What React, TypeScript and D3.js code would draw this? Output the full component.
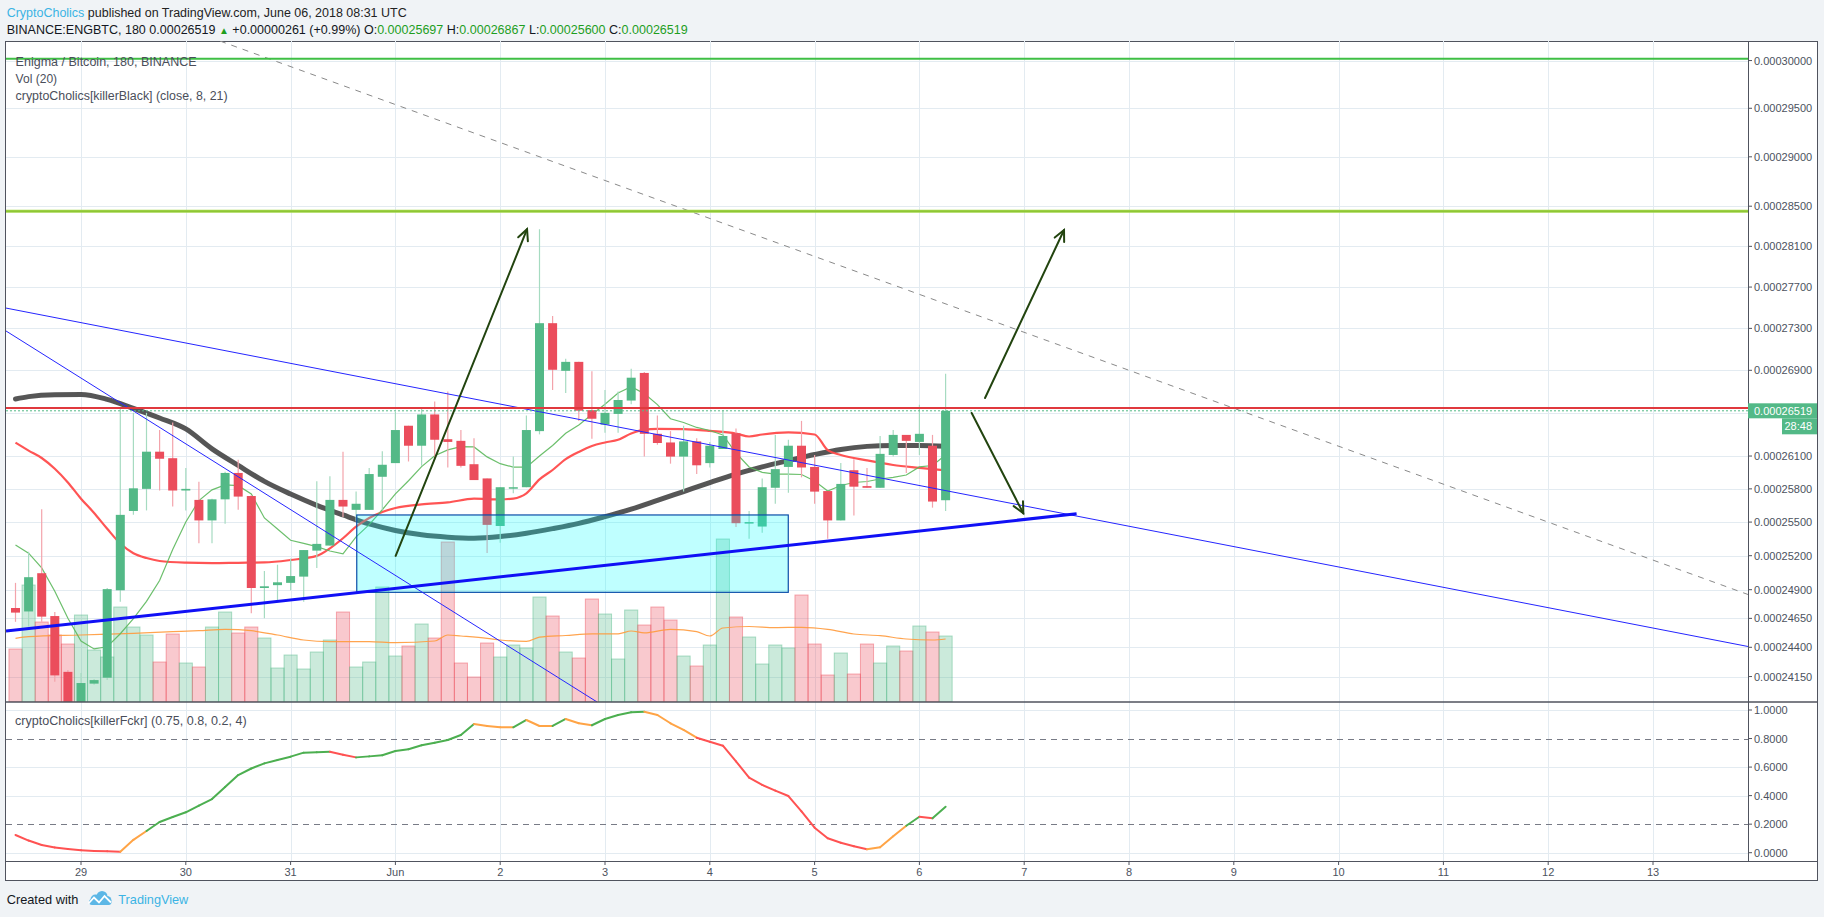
import React from 'react';
import * as d3 from 'd3';

// ENG/BTC 3h candles, May 28 09:00 UTC .. Jun 6 06:00 UTC (prices in satoshi)
const opens = [24740,24710,25045,24670,24190,23900,24090,24140,24895,25600,25800,26140,26080,25785,25700,25515,25705,25945,25735,24915,24940,24960,25015,25245,25290,25700,25610,25610,25910,26035,26380,26195,26485,26255,26240,26025,25895,25465,25810,25815,26330,27350,26895,26980,26525,26390,26490,26615,26875,26305,26225,26095,26235,26035,26165,26310,25490,25460,25810,26000,26195,26000,25780,25515,25970,25825,25810,26110,26295,26230,26195,25697];
const highs = [24960,25235,25615,24705,24205,24180,24130,24915,26545,26500,26500,26340,26410,25990,25865,25710,25955,26065,25745,25065,25120,25175,25250,25870,25915,26140,25775,25990,26145,26510,26380,26545,26605,26700,26340,26265,25895,25815,26095,26475,28270,27420,27010,26980,26890,26715,26700,26915,26885,26475,26330,26380,26265,26230,26525,26355,25600,25895,26295,26250,26425,26110,25780,26035,26070,25990,26285,26340,26295,26575,26295,26867];
const lows = [24620,24580,24620,24105,23860,23870,24080,24120,24795,25565,25605,25785,25640,25605,25310,25310,25485,25610,24695,24650,24795,24895,24795,25090,25290,25545,25505,25610,25610,26035,26050,26010,26065,25995,25995,25880,25225,25315,25760,25815,26300,26715,26685,26425,26260,26315,26315,26580,26095,26205,26030,25775,25935,25995,26165,25455,25350,25405,25665,25765,25905,25665,25350,25515,25560,25810,25810,26095,25945,26110,25630,25600];
const closes = [24700,25010,24665,24160,23900,24095,24120,24905,25565,25805,26140,26075,25785,25800,25515,25705,25945,25730,24915,24930,24965,25020,25250,25305,25700,25640,25665,25935,26020,26340,26195,26485,26250,26230,26010,25880,25475,25815,25815,26340,27350,26905,26980,26520,26445,26500,26620,26830,26305,26220,26095,26235,26015,26195,26285,25490,25500,25815,25980,26195,25995,25775,25515,25845,25820,25810,26120,26295,26240,26305,25685,26519];
const volumes = [53,117,80,67,58,87,52,45,95,75,67,40,68,39,35,75,90,69,75,64,34,47,33,50,62,90,35,40,115,46,56,78,64,160,39,25,59,45,57,54,105,86,50,44,103,88,43,92,77,95,82,46,36,57,163,85,65,38,57,54,107,58,27,49,28,58,39,56,51,76,70,66];

// Vol (20) moving average, read at these bars
const volMaBars = [0,1,5,9,12,14,16,18,20,22,24,27,29,32,33,34,36,37,39,40,42,44,46,47,48,50,52,53,54,56,58,60,62,64,66,68,70,71];
const volMaValues = [63.7,65.3,67,68.7,70.3,71.3,72.7,71.3,67,62,60.3,60.3,59.3,61,67,66,63.7,62,60.6,64.8,66.5,68.2,68.2,71,69.2,72.7,70.3,66,74,75.5,74.4,74.7,72.7,68,66.3,63,62,63];

// killerBlack slow line (thick grey)
const blackBars = [0,1,3,5,7,9,11,13,15,17,19,21,23,25,27,29,31,33,35,37,39,41,43,45,47,49,51,53,55,57,59,61,63,65,67,69,71];
const blackValues = [26630,26652,26670,26672,26626,26542,26452,26350,26166,26014,25868,25753,25651,25564,25483,25425,25386,25365,25356,25370,25400,25441,25488,25549,25616,25695,25776,25857,25934,26000,26058,26114,26161,26189,26198,26198,26190];

// red MA
const redBars = [0,1,2,3,4,5,6,7,8,9,10,11,13,15,17,19,21,23,24,25,26,27,28,29,31,33,35,37,38,39,40,41,42,43,44,45,46,47,48,49,51,53,55,56,57,59,61,62,63,65,67,69,71];
const redValues = [26223,26150,26082,25983,25858,25711,25582,25440,25308,25222,25179,25153,25138,25134,25137,25140,25162,25198,25265,25355,25459,25537,25591,25627,25660,25677,25711,25704,25712,25760,25886,25972,26071,26138,26193,26225,26250,26308,26344,26351,26348,26332,26308,26280,26299,26318,26299,26154,26110,26060,26018,25992,25968];

// thin green MA, one value per bar
const greenValues = [25296,25222,25092,24887,24651,24454,24386,24405,24517,24647,24798,24981,25255,25501,25694,25791,25836,25829,25754,25537,25438,25337,25309,25280,25242,25216,25367,25477,25611,25754,25874,26003,26102,26157,26186,26184,26092,26030,25998,25998,26100,26197,26310,26387,26484,26580,26686,26746,26680,26577,26445,26410,26364,26336,26294,26128,26000,25950,25935,25934,25931,25872,25781,25831,25858,25867,25890,25904,25926,26000,26013,26110];

// killerFckr oscillator
const oscValues = [0.124,0.085,0.054,0.037,0.026,0.018,0.012,0.010,0.007,0.09,0.152,0.215,0.25,0.283,0.33,0.376,0.46,0.544,0.59,0.626,0.65,0.673,0.701,0.704,0.707,0.687,0.668,0.675,0.683,0.713,0.725,0.753,0.771,0.79,0.825,0.902,0.888,0.879,0.879,0.93,0.888,0.888,0.937,0.907,0.893,0.937,0.965,0.984,0.988,0.965,0.907,0.86,0.806,0.778,0.75,0.64,0.526,0.475,0.435,0.397,0.29,0.175,0.101,0.07,0.045,0.024,0.038,0.115,0.189,0.252,0.241,0.322];

const priceTicks = [30000,29500,29000,28500,28100,27700,27300,26900,26500,26100,25800,25500,25200,24900,24650,24400,24150];
const oscTicks = [0,0.2,0.4,0.6,0.8,1];
const oscDashed = [0.2,0.8];
const dayLabels = ['29','30','31','Jun','2','3','4','5','6','7','8','9','10','11','12','13'];
const dayStartBars = [5,13,21,29,37,45,53,61,69,77,85,93,101,109,117,125];

// drawings: [bar, price]
const levelGreen = 30020;
const levelLime = 28450;
const levelRed = 26546;
const lastPrice = 26519;
const dashedTrend: [number, number][] = [[15.61, 30207], [132.25, 24858]];
const blueTrendA: [number, number][] = [[-0.725, 27496], [132.25, 24407]];
const blueTrendB: [number, number][] = [[-0.725, 27275], [44.39, 23935]];
const supportTrend: [number, number][] = [[-0.725, 24540], [81.0, 25575]];
const zoneBars = [26.05, 58.99];
const zonePrices = [25564, 24877];
const arrowsData: [number, number][][] = [
  [[29.02, 25198], [39.05, 28270]],
  [[74.01, 26639], [80.04, 28262]],
  [[72.99, 26499], [76.93, 25579]],
];

const fmt = (p: number) => (p / 1e8).toFixed(8);

export default function App() {
  const W = 1824, H = 917;
  const X0 = 6, X1 = 1748, Y0 = 41, Y1 = 702, TY = 861;
  const x = d3.scaleLinear().domain([0, 71]).range([15.5, 945.6]);
  const y = d3.scaleLog().domain([24000, 30000]).range([694.25, 60.55]);
  const vy = d3.scaleLinear().domain([0, 400]).range([Y1, Y1 - 400]);
  const oy = d3.scaleLinear().domain([0, 1]).range([852.7, 710]);

  const GREEN = '#53b987', RED = '#eb4d5c';
  const GWICK = '#a6dbc1', RWICK = '#f3a3ab';

  const pairs = (bars: number[], vals: number[]) => bars.map((b, i) => [b, vals[i]] as [number, number]);
  const smooth = d3.line<[number, number]>().x(d => x(d[0])).y(d => y(d[1])).curve(d3.curveMonotoneX);
  const straight = d3.line<[number, number]>().x(d => x(d[0])).y(d => y(d[1]));
  const volLine = d3.line<[number, number]>().x(d => x(d[0])).y(d => vy(d[1])).curve(d3.curveMonotoneX);

  const bw = 13.1;
  const candles = opens.map((o, i) => ({ i, o, h: highs[i], l: lows[i], c: closes[i], up: closes[i] >= o }));

  const oscColor = (i: number) => {
    const v = oscValues[i], p = oscValues[i - 1];
    if (v > p) return v < 0.2 ? '#ffa446' : '#4caf50';
    return v > 0.8 ? '#ffa446' : '#ff5252';
  };

  const arrow = (seg: [number, number][], key: number) => {
    const x1 = x(seg[0][0]), y1 = y(seg[0][1]), x2 = x(seg[1][0]), y2 = y(seg[1][1]);
    const a = Math.atan2(y2 - y1, x2 - x1);
    const L = 12, s = 0.45;
    const w1 = [x2 - L * Math.cos(a - s), y2 - L * Math.sin(a - s)];
    const w2 = [x2 - L * Math.cos(a + s), y2 - L * Math.sin(a + s)];
    return (
      <g key={key} stroke="#22440f" strokeWidth={2} fill="none" strokeLinecap="round">
        <line x1={x1} y1={y1} x2={x2} y2={y2} />
        <polyline points={`${w1[0]},${w1[1]} ${x2},${y2} ${w2[0]},${w2[1]}`} />
      </g>
    );
  };

  const axisFont = 'Liberation Sans, Arial, sans-serif';

  return (
    <svg width={W} height={H} style={{ position: 'fixed', left: 0, top: 0 }} fontFamily={axisFont}>
      <defs>
        <clipPath id="mainClip"><rect x={X0} y={Y0} width={X1 - X0} height={Y1 - Y0} /></clipPath>
        <clipPath id="oscClip"><rect x={X0} y={Y1} width={X1 - X0} height={TY - Y1} /></clipPath>
      </defs>
      <rect x={0} y={0} width={W} height={H} fill="#f0f3f6" />

      {/* header */}
      <text x={6.7} y={17} fontSize={12.5} textLength={400} lengthAdjust="spacingAndGlyphs">
        <tspan fill="#3bb3e4">CryptoCholics</tspan>
        <tspan fill="#222"> published on TradingView.com, June 06, 2018 08:31 UTC</tspan>
      </text>
      <text x={6.7} y={33.7} fontSize={12.5} fill="#131722" textLength={681} lengthAdjust="spacingAndGlyphs">
        <tspan>BINANCE:ENGBTC, 180 0.00026519 </tspan>
        <tspan fill="#1e9e1e" fontSize={10}>▲</tspan>
        <tspan> +0.00000261 (+0.99%) O:</tspan>
        <tspan fill="#1e9e1e">0.00025697</tspan>
        <tspan> H:</tspan>
        <tspan fill="#1e9e1e">0.00026867</tspan>
        <tspan> L:</tspan>
        <tspan fill="#1e9e1e">0.00025600</tspan>
        <tspan> C:</tspan>
        <tspan fill="#1e9e1e">0.00026519</tspan>
      </text>

      {/* chart frame */}
      <rect x={5.5} y={41.5} width={1812} height={839} fill="#ffffff" stroke="#50535e" strokeWidth={1} />

      {/* grid */}
      <g stroke="#e3ebf1" strokeWidth={1}>
        {priceTicks.map(p => <line key={p} x1={X0} x2={X1} y1={Math.round(y(p)) + 0.5} y2={Math.round(y(p)) + 0.5} />)}
        {oscTicks.filter(t => !oscDashed.includes(t)).map(t => <line key={t} x1={X0} x2={X1} y1={Math.round(oy(t)) + 0.5} y2={Math.round(oy(t)) + 0.5} />)}
        {dayStartBars.map(b => <line key={b} x1={Math.round(x(b)) + 0.5} x2={Math.round(x(b)) + 0.5} y1={Y0} y2={TY} />)}
      </g>

      {/* volume */}
      <g clipPath="url(#mainClip)">
        {candles.map(d => (
          <rect key={d.i} x={x(d.i) - bw / 2} y={vy(volumes[d.i])} width={bw} height={Y1 - vy(volumes[d.i])}
            fill={d.up ? 'rgba(83,185,135,0.3)' : 'rgba(235,77,92,0.3)'}
            stroke={d.up ? 'rgba(83,185,135,0.45)' : 'rgba(235,77,92,0.45)'} strokeWidth={1} />
        ))}
        <path d={volLine(pairs(volMaBars, volMaValues)) || ''} fill="none" stroke="#ff9a3c" strokeWidth={1.2} opacity={0.9} />

        {/* moving averages */}
        <path d={smooth(pairs(blackBars, blackValues)) || ''} fill="none" stroke="#4d4d4d" strokeWidth={5} strokeLinecap="round" opacity={0.95} />
        <path d={smooth(pairs(redBars, redValues)) || ''} fill="none" stroke="#ff4b4b" strokeWidth={2.2} opacity={0.95} />
        <path d={straight(greenValues.map((v, i) => [i, v] as [number, number])) || ''} fill="none" stroke="#5cb85c" strokeWidth={1.2} opacity={0.9} />

        {/* candles */}
        {candles.map(d => {
          const cx = x(d.i);
          const top = y(Math.max(d.o, d.c)), bot = y(Math.min(d.o, d.c));
          return (
            <g key={d.i}>
              <line x1={cx} x2={cx} y1={y(d.h)} y2={y(d.l)} stroke={d.up ? GWICK : RWICK} strokeWidth={1.2} />
              <rect x={cx - 4.5} y={top} width={9} height={Math.max(1.5, bot - top)} fill={d.up ? GREEN : RED} />
            </g>
          );
        })}

        {/* drawings */}
        <rect x={x(zoneBars[0])} y={y(zonePrices[0])} width={x(zoneBars[1]) - x(zoneBars[0])} height={y(zonePrices[1]) - y(zonePrices[0])}
          fill="rgba(0,255,255,0.25)" stroke="#0b4ea8" strokeWidth={1.2} />
        <path d={straight(dashedTrend) || ''} stroke="#8a8a8a" strokeWidth={1} strokeDasharray="6 6" fill="none" />
        <path d={straight(blueTrendA) || ''} stroke="#2525ff" strokeWidth={1} fill="none" />
        <path d={straight(blueTrendB) || ''} stroke="#2525ff" strokeWidth={1} fill="none" />
        <path d={straight(supportTrend) || ''} stroke="#1010f5" strokeWidth={3} fill="none" />
        <line x1={X0} x2={X1} y1={y(levelGreen)} y2={y(levelGreen)} stroke="#3fbf45" strokeWidth={2} />
        <line x1={X0} x2={X1} y1={y(levelLime)} y2={y(levelLime)} stroke="#a3d64a" strokeWidth={3} />
        <line x1={X0} x2={X1} y1={y(levelLime)} y2={y(levelLime)} stroke="#86bf2f" strokeWidth={1} />
        <line x1={X0} x2={X1} y1={y(levelRed)} y2={y(levelRed)} stroke="#e0393e" strokeWidth={2} />
        <line x1={X0} x2={X1} y1={y(lastPrice)} y2={y(lastPrice)} stroke={GREEN} strokeWidth={1} strokeDasharray="2 2" />
        {arrowsData.map((a, k) => arrow(a, k))}
      </g>

      {/* legends */}
      <g fill="#4a4e5a" fontSize={12.5}>
        <text x={15.6} y={66.2} textLength={181} lengthAdjust="spacingAndGlyphs">Enigma / Bitcoin, 180, BINANCE</text>
        <text x={15.6} y={83.2} textLength={41.5} lengthAdjust="spacingAndGlyphs">Vol (20)</text>
        <text x={15.6} y={99.8} textLength={212} lengthAdjust="spacingAndGlyphs">cryptoCholics[killerBlack] (close, 8, 21)</text>
        <text x={15} y={724.5} textLength={231.7} lengthAdjust="spacingAndGlyphs">cryptoCholics[killerFckr] (0.75, 0.8, 0.2, 4)</text>
      </g>

      {/* oscillator */}
      <g stroke="#787b86" strokeWidth={1} strokeDasharray="6 5">
        {oscDashed.map(t => <line key={t} x1={X0} x2={X1} y1={Math.round(oy(t)) + 0.5} y2={Math.round(oy(t)) + 0.5} />)}
      </g>
      <g clipPath="url(#oscClip)" strokeWidth={2} strokeLinecap="round">
        {oscValues.slice(1).map((v, k) => {
          const i = k + 1;
          return <line key={i} x1={x(i - 1)} y1={oy(oscValues[i - 1])} x2={x(i)} y2={oy(v)} stroke={oscColor(i)} />;
        })}
      </g>

      {/* pane borders */}
      <line x1={X0} x2={1817} y1={Y1} y2={Y1} stroke="#50535e" strokeWidth={1.5} />
      <line x1={5.5} x2={1817.5} y1={TY + 0.5} y2={TY + 0.5} stroke="#50535e" strokeWidth={1} />
      <line x1={X1 + 0.5} x2={X1 + 0.5} y1={Y0} y2={TY} stroke="#50535e" strokeWidth={1} />

      {/* price axis */}
      <g fontSize={11} fill="#4c525e">
        {priceTicks.map(p => (
          <g key={p}>
            <line x1={X1} x2={X1 + 4} y1={y(p)} y2={y(p)} stroke="#50535e" />
            <text x={1754} y={y(p)} dy="0.36em">{fmt(p)}</text>
          </g>
        ))}
        {oscTicks.map(t => (
          <g key={t}>
            <line x1={X1} x2={X1 + 4} y1={oy(t)} y2={oy(t)} stroke="#50535e" />
            <text x={1754} y={oy(t)} dy="0.36em">{t.toFixed(4)}</text>
          </g>
        ))}
      </g>
      <rect x={X1} y={y(lastPrice) - 7.5} width={1817 - X1} height={15} fill={GREEN} />
      <text x={1754} y={y(lastPrice)} dy="0.36em" fontSize={11} fill="#ffffff">{fmt(lastPrice)}</text>
      <rect x={1782} y={y(lastPrice) + 7.5} width={35} height={16} fill={GREEN} />
      <text x={1812} y={y(lastPrice) + 15.5} dy="0.36em" fontSize={11} fill="#ffffff" textAnchor="end">28:48</text>

      {/* time axis */}
      <g fontSize={11} fill="#4c525e" textAnchor="middle">
        {dayStartBars.map((b, k) => (
          <g key={b}>
            <line x1={x(b)} x2={x(b)} y1={TY} y2={TY + 4} stroke="#50535e" />
            <text x={x(b)} y={876}>{dayLabels[k]}</text>
          </g>
        ))}
      </g>

      {/* footer */}
      <text x={6.7} y={903.5} fontSize={13} fill="#131722" textLength={71.7} lengthAdjust="spacingAndGlyphs">Created with</text>
      <g fill="#5db7e6">
        <circle cx={95.5} cy={899.5} r={5} />
        <circle cx={102} cy={896.5} r={5.5} />
        <circle cx={107} cy={900.5} r={4.5} />
        <rect x={89} y={899} width={22.5} height={6} rx={3} />
      </g>
      <polyline points="88.5,903.5 94,897.5 99,902.5 104.5,896 111,902.5" fill="none" stroke="#ffffff" strokeWidth={1.8} />
      <text x={118.3} y={903.5} fontSize={13} fill="#3bb3e4" textLength={70} lengthAdjust="spacingAndGlyphs">TradingView</text>
    </svg>
  );
}
